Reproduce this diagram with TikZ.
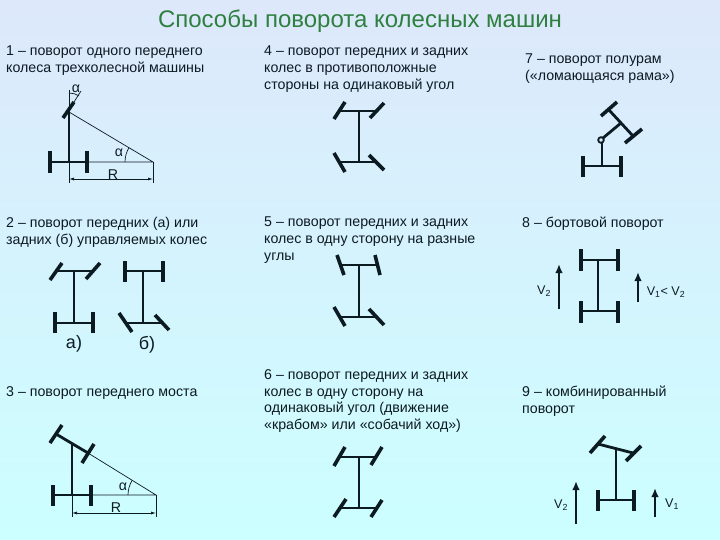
\documentclass[tikz,border=0pt]{standalone}
\usepackage{fontspec}
\setmainfont{Liberation Sans}
\usepackage{xcolor}
\usepackage{tikz}
\usetikzlibrary{arrows.meta}
\definecolor{bgtop}{HTML}{DDE8FB}
\definecolor{bgbottom}{HTML}{CCFFFF}
\definecolor{titlegreen}{HTML}{2F8040}
\definecolor{inkdark}{HTML}{0C1A22}

\begin{document}
\begin{tikzpicture}[x=1pt,y=-1pt,
    every node/.style={font=\fontsize{14.2}{16.9}\selectfont,text=inkdark,inner sep=0pt},
    note/.style={align=left,anchor=north west},
    speedlabel/.style={font=\fontsize{12.6}{15}\selectfont},
    wheel/.style={line width=3.6pt,color=inkdark},
    axle/.style={line width=2.8pt,color=inkdark},
    thinline/.style={line width=0.7pt,color=inkdark},
    dimline/.style={thinline,{Latex[length=5pt,width=3pt]}-{Latex[length=5pt,width=3pt]}},
    speed/.style={line width=1.9pt,color=inkdark,-{Latex[length=9pt,width=7.5pt]}}]
    \shade[top color=bgtop,bottom color=bgbottom] (0,0) rectangle (720,540);
    \useasboundingbox (0,0) rectangle (720,540);

    \node[font=\fontsize{24}{26}\selectfont,text=titlegreen] (title) at (360,21) {Способы поворота колесных машин};

    \node[note] (note1) at (6,46) {1 – поворот одного переднего\\колеса трехколесной машины};
    \node[note] (note2) at (6,217) {2 – поворот передних (а) или\\задних (б) управляемых колес};
    \node[note] (note3) at (6,386) {3 – поворот переднего моста};
    \node[note] (note4) at (264,46) {4 – поворот передних и задних\\колес в противоположные\\стороны на одинаковый угол};
    \node[note] (note5) at (264,217) {5 – поворот передних и задних\\колес в одну сторону на разные\\углы};
    \node[note] (note6) at (264,369) {6 – поворот передних и задних\\колес в одну сторону на\\одинаковый угол (движение\\«крабом» или «собачий ход»)};
    \node[note] (note7) at (525,54) {7 – поворот полурам\\(«ломающаяся рама»)};
    \node[note] (note8) at (522,217) {8 – бортовой поворот};
    \node[note] (note9) at (522,386) {9 – комбинированный\\поворот};

    % 1
    \draw[wheel] (63,118) -- (74,102);
    \draw[axle] (69,112) -- (69,162);
    \draw[axle] (50,162) -- (87,162);
    \draw[wheel] (50,151) -- (50,173);
    \draw[wheel] (87,151) -- (87,173);
    \draw[thinline] (69,112) -- (153,162) -- (87,162);
    \draw[thinline] (69,112) -- (69,90);
    \draw[thinline] (74,102) -- (81,91);
    \draw[thinline] (69,93) arc[start angle=-90,end angle=-58,radius=19];
    \draw[thinline] (125,162) arc[start angle=180,end angle=211,radius=28];
    \draw[thinline] (69,162) -- (69,183);
    \draw[thinline] (153,162) -- (153,183);
    \draw[dimline] (69,179) -- (153,179);
    \node (alpha1a) at (76,89) {α};
    \node (alpha1b) at (119,153) {α};
    \node (dimR1) at (113,175) {R};

    % 2 a
    \draw[axle] (56,271) -- (93,271);
    \draw[wheel] (50,280) -- (62,263);
    \draw[wheel] (86,279) -- (100,263);
    \draw[axle] (74,271) -- (74,323);
    \draw[axle] (55,323) -- (93,323);
    \draw[wheel] (55,312) -- (55,333);
    \draw[wheel] (93,312) -- (93,333);
    \node[font=\fontsize{18}{20}\selectfont] (labela) at (74,344) {а)};
    % 2 b
    \draw[axle] (125,271) -- (163,271);
    \draw[wheel] (125,261) -- (125,282);
    \draw[wheel] (163,261) -- (163,282);
    \draw[axle] (143,271) -- (143,323);
    \draw[axle] (125,323) -- (162,323);
    \draw[wheel] (119,313) -- (132,332);
    \draw[wheel] (155,315) -- (169,330);
    \node[font=\fontsize{18}{20}\selectfont] (labelb) at (147,345) {б)};

    % 3
    \draw[wheel] (50,443) -- (62,425);
    \draw[wheel] (82,463) -- (94,444);
    \draw[axle] (56,434) -- (88,453);
    \draw[axle] (72,444) -- (72,495);
    \draw[axle] (53,495) -- (91,495);
    \draw[wheel] (53,485) -- (53,506);
    \draw[wheel] (91,485) -- (91,506);
    \draw[thinline] (88,453) -- (156,495) -- (91,495);
    \draw[thinline] (128,495) arc[start angle=180,end angle=211,radius=28];
    \draw[thinline] (72,495) -- (72,517);
    \draw[thinline] (156,495) -- (156,517);
    \draw[dimline] (72,513) -- (156,513);
    \node (alpha3) at (123,487) {α};
    \node (dimR3) at (116,508) {R};

    % 4
    \draw[axle] (340,111) -- (377,111);
    \draw[wheel] (334,119) -- (345,102);
    \draw[wheel] (370,118) -- (384,103);
    \draw[axle] (359,111) -- (359,162);
    \draw[axle] (340,162) -- (377,162);
    \draw[wheel] (334,153) -- (345,172);
    \draw[wheel] (369,155) -- (384,170);

    % 5
    \draw[axle] (341,265) -- (378,265);
    \draw[wheel] (337,255) -- (344,275);
    \draw[wheel] (375,255) -- (380,275);
    \draw[axle] (359,265) -- (359,317);
    \draw[axle] (340,317) -- (377,317);
    \draw[wheel] (334,307) -- (345,326);
    \draw[wheel] (369,309) -- (384,325);

    % 6
    \draw[axle] (340,457) -- (377,457);
    \draw[wheel] (334,466) -- (345,447);
    \draw[wheel] (371,465) -- (382,447);
    \draw[axle] (359,457) -- (359,508);
    \draw[axle] (340,508) -- (377,508);
    \draw[wheel] (334,517) -- (346,499);
    \draw[wheel] (371,517) -- (382,500);

    % 7
    \draw[axle] (583,166) -- (621,166);
    \draw[wheel] (583,156) -- (583,177);
    \draw[wheel] (621,156) -- (621,177);
    \draw[axle] (602,166) -- (602,143);
    \draw[axle] (603,138) -- (621,123);
    \draw[axle] (609,110) -- (633,136);
    \draw[wheel] (601,116) -- (617,102);
    \draw[wheel] (625,143) -- (642,129);
    \draw[line width=1.8pt,color=inkdark] (601,140) circle[radius=2.8];

    % 8
    \draw[axle] (581,260) -- (618,260);
    \draw[wheel] (581,249) -- (581,271);
    \draw[wheel] (618,249) -- (618,271);
    \draw[axle] (598,260) -- (598,311);
    \draw[axle] (581,311) -- (618,311);
    \draw[wheel] (581,301) -- (581,323);
    \draw[wheel] (618,301) -- (618,323);
    \draw[speed] (559,309) -- (559,264);
    \draw[speed] (638,302) -- (638,272);
    \node[speedlabel] (speed8a) at (544,291) {V\textsubscript{2}};
    \node[speedlabel] (speed8b) at (666,292) {V\textsubscript{1}< V\textsubscript{2}};

    % 9
    \draw[axle] (598,500) -- (634,500);
    \draw[wheel] (598,490) -- (598,511);
    \draw[wheel] (634,490) -- (634,511);
    \draw[axle] (616,500) -- (616,449);
    \draw[axle] (598,444) -- (633,453);
    \draw[wheel] (590,453) -- (605,436);
    \draw[wheel] (626,461) -- (641,446);
    \draw[speed] (576,524) -- (576,481);
    \draw[speed] (655,517) -- (655,488);
    \node[speedlabel] (speed9a) at (561,505) {V\textsubscript{2}};
    \node[speedlabel] (speed9b) at (672,504) {V\textsubscript{1}};
\end{tikzpicture}
\end{document}
